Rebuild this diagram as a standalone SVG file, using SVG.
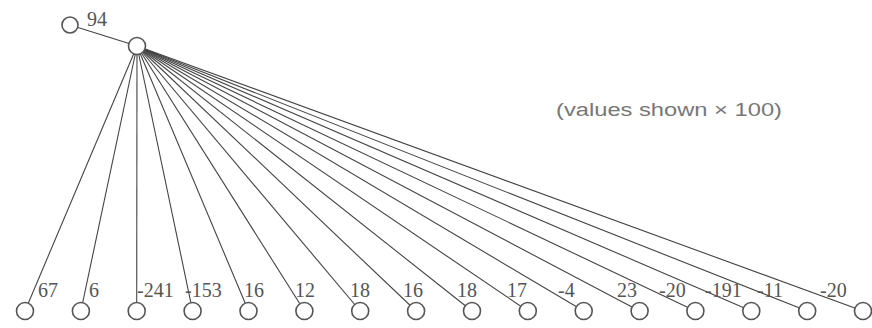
<svg xmlns="http://www.w3.org/2000/svg" width="872" height="328" viewBox="0 0 872 328">
<style>
.node{fill:#fff;stroke:#555;stroke-width:1.6}
.edge{stroke:#444;stroke-width:1.1;fill:none}
.lbl{font-family:"Liberation Serif",serif;font-size:20px;fill:#555}
.note{font-family:"Liberation Sans",sans-serif;font-size:18px;fill:#777}
</style>
<rect width="872" height="328" fill="#fff"/>
<g id="connectors">
<line class="edge" x1="70" y1="25" x2="137" y2="46"/>
<line class="edge" x1="137" y1="46" x2="25" y2="311"/>
<line class="edge" x1="137" y1="46" x2="80.9" y2="311"/>
<line class="edge" x1="137" y1="46" x2="136.7" y2="311"/>
<line class="edge" x1="137" y1="46" x2="192.6" y2="311"/>
<line class="edge" x1="137" y1="46" x2="248.5" y2="311"/>
<line class="edge" x1="137" y1="46" x2="304.4" y2="311"/>
<line class="edge" x1="137" y1="46" x2="360.2" y2="311"/>
<line class="edge" x1="137" y1="46" x2="416.1" y2="311"/>
<line class="edge" x1="137" y1="46" x2="472" y2="311"/>
<line class="edge" x1="137" y1="46" x2="527.8" y2="311"/>
<line class="edge" x1="137" y1="46" x2="583.7" y2="311"/>
<line class="edge" x1="137" y1="46" x2="639.6" y2="311"/>
<line class="edge" x1="137" y1="46" x2="695.4" y2="311"/>
<line class="edge" x1="137" y1="46" x2="751.3" y2="311"/>
<line class="edge" x1="137" y1="46" x2="807.2" y2="311"/>
<line class="edge" x1="137" y1="46" x2="863" y2="311"/>
</g>
<g id="n_top"><circle class="node" cx="70" cy="25" r="8"/><text class="lbl" x="87" y="26">94</text></g>
<g id="n_root"><circle class="node" cx="137" cy="46" r="8.5"/></g>
<g id="n1"><circle class="node" cx="25" cy="311" r="8.5"/><text class="lbl" x="38" y="297">67</text></g>
<g id="n2"><circle class="node" cx="80.9" cy="311" r="8.5"/><text class="lbl" x="89" y="297">6</text></g>
<g id="n3"><circle class="node" cx="136.7" cy="311" r="8.5"/><text class="lbl" x="137" y="297">-241</text></g>
<g id="n4"><circle class="node" cx="192.6" cy="311" r="8.5"/><text class="lbl" x="185" y="297">-153</text></g>
<g id="n5"><circle class="node" cx="248.5" cy="311" r="8.5"/><text class="lbl" x="244" y="297">16</text></g>
<g id="n6"><circle class="node" cx="304.4" cy="311" r="8.5"/><text class="lbl" x="295" y="297">12</text></g>
<g id="n7"><circle class="node" cx="360.2" cy="311" r="8.5"/><text class="lbl" x="350" y="297">18</text></g>
<g id="n8"><circle class="node" cx="416.1" cy="311" r="8.5"/><text class="lbl" x="403" y="297">16</text></g>
<g id="n9"><circle class="node" cx="472" cy="311" r="8.5"/><text class="lbl" x="457" y="297">18</text></g>
<g id="n10"><circle class="node" cx="527.8" cy="311" r="8.5"/><text class="lbl" x="507" y="297">17</text></g>
<g id="n11"><circle class="node" cx="583.7" cy="311" r="8.5"/><text class="lbl" x="558" y="297">-4</text></g>
<g id="n12"><circle class="node" cx="639.6" cy="311" r="8.5"/><text class="lbl" x="617" y="297">23</text></g>
<g id="n13"><circle class="node" cx="695.4" cy="311" r="8.5"/><text class="lbl" x="659" y="297">-20</text></g>
<g id="n14"><circle class="node" cx="751.3" cy="311" r="8.5"/><text class="lbl" x="705" y="297">-191</text></g>
<g id="n15"><circle class="node" cx="807.2" cy="311" r="8.5"/><text class="lbl" x="757" y="297">-11</text></g>
<g id="n16"><circle class="node" cx="863" cy="311" r="8.5"/><text class="lbl" x="820" y="297">-20</text></g>
<text class="note" x="556" y="116" textLength="226" lengthAdjust="spacingAndGlyphs">(values shown × 100)</text>
</svg>
